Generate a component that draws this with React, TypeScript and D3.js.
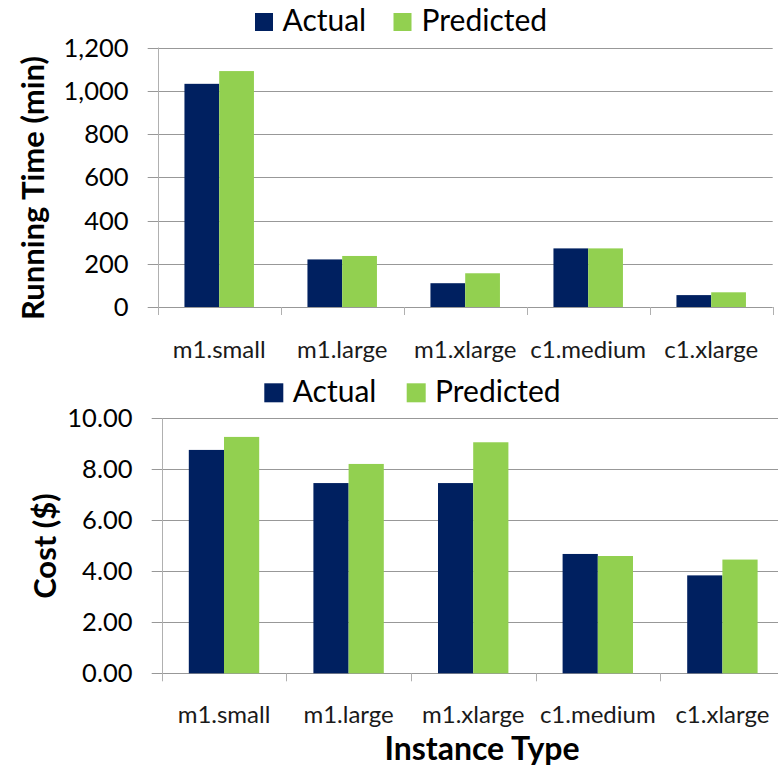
import React, { useEffect, useRef } from "react";
import * as d3 from "d3";

const categories = ["m1.small", "m1.large", "m1.xlarge", "c1.medium", "c1.xlarge"];
const seriesNames = ["Actual", "Predicted"];
const seriesColors = ["#002060", "#92D050"];
const runningActual = [1032, 220, 110, 271, 55];
const runningPredicted = [1091, 236, 156, 271, 68];
const costActual = [8.76, 7.46, 7.46, 4.68, 3.84];
const costPredicted = [9.27, 8.21, 9.06, 4.6, 4.46];
const runningTicks = [0, 200, 400, 600, 800, 1000, 1200];
const costTicks = [0, 2, 4, 6, 8, 10];

const FONT = "Lato, 'Open Sans', sans-serif";

type PanelCfg = {
  left: number;
  right: number;
  top: number;
  bottom: number;
  yMax: number;
  ticks: number[];
  fmt: (v: number) => string;
  actual: number[];
  predicted: number[];
  title: string;
  titleX: number;
  titleY: number;
  labelRight: number;
  catBaseline: number;
  legendY: number;
  legendSize: number;
  legendX: number[];
  legendTextX: number[];
};

function drawPanel(g: d3.Selection<SVGGElement, unknown, null, undefined>, c: PanelCfg) {
  const x = d3.scaleBand<string>().domain(categories).range([c.left, c.right]).paddingInner(0).paddingOuter(0);
  const inner = d3.scaleBand<string>().domain(seriesNames).range([0, x.bandwidth()]).paddingInner(0).paddingOuter(0.77);
  const y = d3.scaleLinear().domain([0, c.yMax]).range([c.bottom, c.top]);

  // gridlines
  g.append("g")
    .selectAll("line")
    .data(c.ticks)
    .join("line")
    .attr("x1", c.left - 10)
    .attr("x2", c.right)
    .attr("y1", (d) => Math.round(y(d)) + 0.5)
    .attr("y2", (d) => Math.round(y(d)) + 0.5)
    .attr("stroke", "#989898")
    .attr("stroke-width", 1);

  // y axis line
  g.append("line")
    .attr("x1", Math.round(c.left) + 0.5)
    .attr("x2", Math.round(c.left) + 0.5)
    .attr("y1", y(c.yMax))
    .attr("y2", c.bottom + 8)
    .attr("stroke", "#b0b0b0");

  // category ticks
  const bounds = categories.map((d) => x(d)!).concat([c.right]);
  g.append("g")
    .selectAll("line")
    .data(bounds.slice(1))
    .join("line")
    .attr("x1", (d) => Math.round(d) + 0.5)
    .attr("x2", (d) => Math.round(d) + 0.5)
    .attr("y1", c.bottom)
    .attr("y2", c.bottom + 8)
    .attr("stroke", "#b0b0b0");

  // y tick labels
  g.append("g")
    .selectAll("text")
    .data(c.ticks)
    .join("text")
    .attr("x", c.labelRight)
    .attr("y", (d) => y(d))
    .attr("dy", "0.36em")
    .attr("text-anchor", "end")
    .attr("font-family", FONT)
    .attr("font-size", 25.5)
    .attr("fill", "#000")
    .text((d) => c.fmt(d));

  // bars
  const data = [c.actual, c.predicted];
  seriesNames.forEach((s, si) => {
    g.append("g")
      .selectAll("rect")
      .data(categories)
      .join("rect")
      .attr("x", (d) => x(d)! + inner(s)!)
      .attr("width", inner.bandwidth())
      .attr("y", (d, i) => y(data[si][i]))
      .attr("height", (d, i) => c.bottom - y(data[si][i]))
      .attr("fill", seriesColors[si]);
  });

  // category labels
  g.append("g")
    .selectAll("text")
    .data(categories)
    .join("text")
    .attr("x", (d) => x(d)! + x.bandwidth() / 2)
    .attr("y", c.catBaseline)
    .attr("text-anchor", "middle")
    .attr("font-family", FONT)
    .attr("font-size", 24)
    .attr("fill", "#1a1a1a")
    .text((d) => d);

  // y title
  g.append("text")
    .attr("transform", `translate(${c.titleX},${c.titleY}) rotate(-90)`)
    .attr("text-anchor", "middle")
    .attr("font-family", FONT)
    .attr("font-weight", "bold")
    .attr("font-size", 31)
    .attr("fill", "#000")
    .text(c.title);

  // legend
  seriesNames.forEach((s, si) => {
    g.append("rect")
      .attr("x", c.legendX[si])
      .attr("y", c.legendY - c.legendSize)
      .attr("width", c.legendSize)
      .attr("height", c.legendSize)
      .attr("fill", seriesColors[si]);
    g.append("text")
      .attr("x", c.legendTextX[si])
      .attr("y", c.legendY)
      .attr("font-family", FONT)
      .attr("font-size", 30)
      .attr("fill", "#000")
      .text(s);
  });
}

export default function App() {
  const ref = useRef<SVGSVGElement>(null);
  useEffect(() => {
    const svg = d3.select(ref.current!);
    svg.selectAll("*").remove();
    const g = svg.append("g") as any;

    drawPanel(g, {
      left: 157.7,
      right: 772.7,
      top: 47.5,
      bottom: 307,
      yMax: 1200,
      ticks: runningTicks,
      fmt: d3.format(","),
      actual: runningActual,
      predicted: runningPredicted,
      title: "Running Time (min)",
      titleX: 43.5,
      titleY: 188,
      labelRight: 128.5,
      catBaseline: 357.5,
      legendY: 31,
      legendSize: 18,
      legendX: [255, 393.5],
      legendTextX: [282.5, 421.5],
    });

    drawPanel(g, {
      left: 161.7,
      right: 784.7,
      top: 418.3,
      bottom: 673.3,
      yMax: 10,
      ticks: costTicks,
      fmt: d3.format(".2f"),
      actual: costActual,
      predicted: costPredicted,
      title: "Cost ($)",
      titleX: 56,
      titleY: 546,
      labelRight: 132.5,
      catBaseline: 722.7,
      legendY: 402.3,
      legendSize: 19,
      legendX: [264.3, 406.7],
      legendTextX: [292.7, 435],
    });

    g.append("text")
      .attr("x", 482)
      .attr("y", 760)
      .attr("text-anchor", "middle")
      .attr("font-family", FONT)
      .attr("font-weight", "bold")
      .attr("font-size", 32)
      .attr("fill", "#000")
      .text("Instance Type");
  }, []);

  return (
    <svg
      ref={ref}
      width={778}
      height={769}
      style={{ position: "absolute", left: 0, top: 0, background: "#fff" }}
    />
  );
}
